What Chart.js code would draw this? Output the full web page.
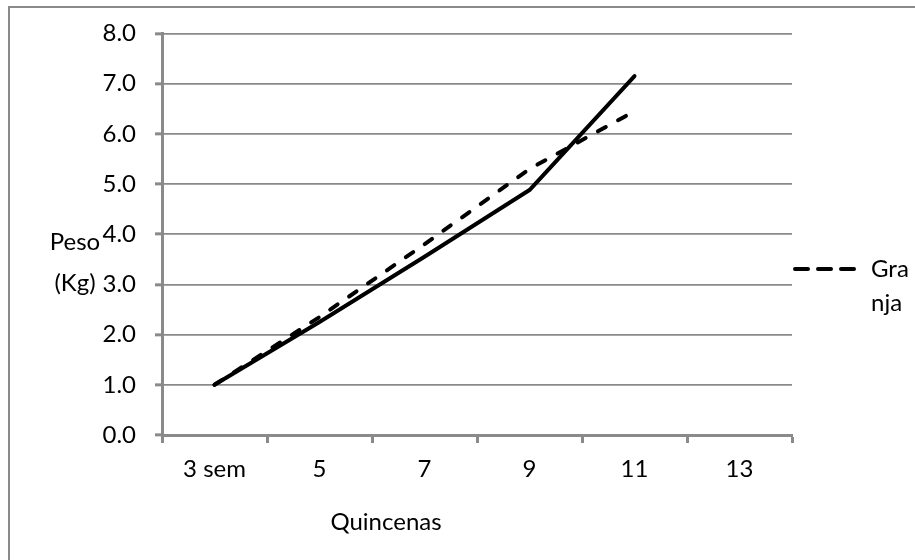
<!DOCTYPE html>
<html>
<head>
<meta charset="utf-8">
<script src="https://cdn.jsdelivr.net/npm/chart.js@4/dist/chart.umd.min.js"></script>
<style>
  html, body { margin: 0; padding: 0; background: #fff; }
  #wrap { width: 915px; height: 560px; position: relative; }
</style>
</head>
<body>
<div id="wrap"><canvas id="c" width="915" height="560"></canvas></div>
<script>
// ---- data ----
const categories = ['3 sem', '5', '7', '9', '11', '13'];
const pesoSerie1 = [1.0, 2.25, 3.55, 4.88, 7.15, null];
const pesoGranja = [1.0, 2.35, 3.8, 5.3, 6.45, null];
const yMin = 0, yMax = 8, yStep = 1;
const legendLines = ['Gra', 'nja'];
const yTitleLines = ['Peso', '(Kg)'];
const xTitle = 'Quincenas';

const FONT = 'Lato, "Open Sans", sans-serif';
const FS = 24;
const GRID = '#8a8a8a';

const extras = {
  id: 'extras',
  afterDraw(chart) {
    const ctx = chart.ctx;
    ctx.save();
    // outer frame (left and top visible)
    ctx.strokeStyle = '#8a8a8a';
    ctx.lineWidth = 2;
    ctx.beginPath();
    ctx.moveTo(9, 560);
    ctx.lineTo(9, 7);
    ctx.lineTo(915, 7);
    ctx.stroke();

    ctx.fillStyle = '#000';
    ctx.font = FS + 'px ' + FONT;
    ctx.textBaseline = 'middle';
    // y title
    ctx.textAlign = 'center';
    ctx.fillText(yTitleLines[0], 75, 242);
    ctx.fillText(yTitleLines[1], 75, 283);
    // x title
    ctx.fillText(xTitle, 386, 522);

    // legend
    const ds = chart.data.datasets[1];
    const ly = 269;
    ctx.strokeStyle = ds.borderColor;
    ctx.lineWidth = ds.borderWidth;
    ctx.lineCap = 'round';
    ctx.setLineDash([13, 10]);
    ctx.beginPath();
    ctx.moveTo(795, ly);
    ctx.lineTo(856, ly);
    ctx.stroke();
    ctx.setLineDash([]);
    ctx.textAlign = 'left';
    ctx.fillText(legendLines[0], 871, ly);
    ctx.fillText(legendLines[1], 871, ly + 34);
    ctx.restore();
  }
};

new Chart(document.getElementById('c'), {
  type: 'line',
  data: {
    labels: categories,
    datasets: [
      {
        label: 'Serie 1',
        data: pesoSerie1,
        borderColor: '#000',
        borderWidth: 4,
        pointRadius: 0,
        tension: 0,
        borderCapStyle: 'round',
        borderJoinStyle: 'round',
        fill: false
      },
      {
        label: 'Granja',
        data: pesoGranja,
        borderColor: '#000',
        borderWidth: 4,
        borderDash: [9, 14],
        pointRadius: 0,
        tension: 0,
        borderCapStyle: 'round',
        borderJoinStyle: 'round',
        fill: false
      }
    ]
  },
  options: {
    responsive: false,
    animation: false,
    devicePixelRatio: 1,
    layout: { padding: { left: 0, right: 123, top: 33, bottom: 0 } },
    plugins: {
      legend: { display: false },
      tooltip: { enabled: false },
      title: { display: false }
    },
    scales: {
      x: {
        type: 'category',
        offset: true,
        grid: {
          offset: true,
          drawOnChartArea: false,
          drawTicks: true,
          tickLength: 8,
          tickWidth: 3,
          tickColor: GRID
        },
        border: { display: true, color: GRID, width: 3 },
        ticks: {
          color: '#000',
          font: { family: FONT, size: FS },
          padding: 12,
          maxRotation: 0,
          autoSkip: false
        },
        afterFit(scale) { scale.height = 125; }
      },
      y: {
        min: yMin,
        max: yMax,
        grid: {
          color: GRID,
          lineWidth: 1.7,
          drawTicks: true,
          tickLength: 7,
          tickWidth: 3,
          tickColor: GRID
        },
        border: { display: true, color: GRID, width: 3 },
        ticks: {
          stepSize: yStep,
          color: '#000',
          font: { family: FONT, size: FS },
          padding: 19,
          callback: v => Number(v).toFixed(1)
        },
        afterFit(scale) { scale.width = 162; }
      }
    }
  },
  plugins: [extras]
});
</script>
</body>
</html>
